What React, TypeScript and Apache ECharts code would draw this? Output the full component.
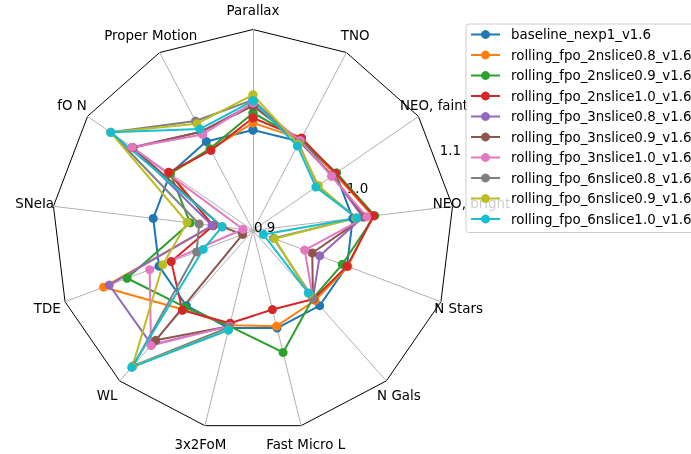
import { useEffect, useRef } from 'react';
import * as echarts from 'echarts';

// Axes in clockwise order starting from the top
const axisNames = ['Parallax', 'TNO', 'NEO, faint', 'NEO, bright', 'N Stars', 'N Gals', 'Fast Micro L', '3x2FoM', 'WL', 'TDE', 'SNeIa', 'fO N', 'Proper Motion'];
const radialTicks = [0.9, 1.0, 1.1];
const rMin = 0.9;
const rMax = 1.1;

const seriesNames = [
  'baseline_nexp1_v1.6',
  'rolling_fpo_2nslice0.8_v1.6',
  'rolling_fpo_2nslice0.9_v1.6',
  'rolling_fpo_2nslice1.0_v1.6',
  'rolling_fpo_3nslice0.8_v1.6',
  'rolling_fpo_3nslice0.9_v1.6',
  'rolling_fpo_3nslice1.0_v1.6',
  'rolling_fpo_6nslice0.8_v1.6',
  'rolling_fpo_6nslice0.9_v1.6',
  'rolling_fpo_6nslice1.0_v1.6',
];
const colors = ['#1f77b4', '#ff7f0e', '#2ca02c', '#d62728', '#9467bd', '#8c564b', '#e377c2', '#7f7f7f', '#bcbd22', '#17becf'];

const baseline = [1.0, 1.0, 1.0, 1.0, 1.0, 1.0, 1.0, 1.0, 1.0, 1.0, 1.0, 1.0, 1.0];
const fpo2ns08 = [1.007, 1.003, 0.999, 1.020, 1.001, 0.993, 0.998, 0.997, 1.005, 1.059, 0.940, 1.000, 0.991];
const fpo2ns09 = [1.017, 1.002, 1.001, 1.022, 0.995, 0.990, 1.025, 0.998, 1.002, 1.034, 0.963, 1.000, 0.992];
const fpo2ns10 = [1.012, 1.004, 1.000, 1.021, 1.000, 0.991, 0.981, 0.995, 1.006, 0.987, 0.940, 1.002, 0.990];
const fpo3ns08 = [1.026, 1.000, 0.996, 1.010, 0.971, 0.990, null, 0.998, 1.052, 1.053, 0.941, 1.046, 1.011];
const fpo3ns09 = [1.024, 1.000, 0.996, 1.012, 0.963, 0.990, null, 0.998, 1.046, 0.911, 0.931, 1.045, 1.011];
const fpo3ns10 = [1.027, 1.001, 0.995, 1.014, 0.955, 0.990, null, 0.998, 1.053, 1.010, 0.910, 1.046, 1.008];
const fpo6ns08 = [1.030, 0.998, 0.978, 1.004, 0.922, 0.990, null, 0.999, 1.080, 0.960, 0.954, 1.072, 1.023];
const fpo6ns09 = [1.035, 0.997, 0.979, 1.003, 0.923, 0.984, null, 1.002, 1.081, 0.996, 0.966, 1.072, 1.020];
const fpo6ns10 = [1.029, 0.995, 0.976, 1.004, 0.911, 0.983, null, 1.002, 1.082, 0.953, 0.931, 1.072, 1.014];

const allValues = [baseline, fpo2ns08, fpo2ns09, fpo2ns10, fpo3ns08, fpo3ns09, fpo3ns10, fpo6ns08, fpo6ns09, fpo6ns10];

const FONT = 'DejaVu Sans';
const FS = 13.4;

export default function App() {
  const ref = useRef<HTMLDivElement>(null);
  useEffect(() => {
    if (!ref.current) return;
    const chart = echarts.init(ref.current, undefined, { renderer: 'svg' });
    const cx = 253;
    const cy = 230.5;
    const R = 201;
    const n = axisNames.length;

    // radar indicators go counter-clockwise in ECharts: reverse (keeping first)
    const ccwOrder = [0, ...Array.from({ length: n - 1 }, (_, i) => n - 1 - i)];
    const indicator = ccwOrder.map((i) => ({ name: axisNames[i], min: rMin, max: rMax }));

    const series = allValues.map((vals, si) => {
      const pts: any[] = vals.map((v, k) => [v === null ? '-' : v, k]);
      pts.push([vals[0], n]);
      return {
        name: seriesNames[si],
        type: 'line',
        coordinateSystem: 'polar',
        data: pts,
        symbol: 'circle',
        symbolSize: 9,
        showSymbol: true,
        connectNulls: false,
        clip: false,
        lineStyle: { width: 2, color: colors[si] },
        itemStyle: { color: colors[si] },
        emphasis: { disabled: true },
        z: 3,
      };
    });

    const labelAngle = (22.5 * Math.PI) / 180;
    const rLabels = radialTicks.map((t) => {
      const r = ((t - rMin) / (rMax - rMin)) * R;
      return {
        type: 'text',
        x: cx + r * Math.cos(labelAngle) + 1,
        y: cy - r * Math.sin(labelAngle) + 3,
        z: 3,
        style: {
          text: t.toFixed(1),
          fill: '#000',
          font: `${FS}px "${FONT}"`,
          align: 'left',
          verticalAlign: 'bottom',
        },
      };
    });

    chart.setOption({
      animation: false,
      color: colors,
      radar: {
        center: [cx, cy],
        radius: R,
        startAngle: 90,
        shape: 'polygon',
        splitNumber: 2,
        indicator,
        nameGap: 19,
        axisName: {
          color: '#000',
          fontFamily: FONT,
          fontSize: FS,
          align: 'center',
          verticalAlign: 'middle',
        },
        axisLine: { lineStyle: { color: '#b0b0b0', width: 1 } },
        splitLine: { lineStyle: { color: ['#b0b0b0', '#b0b0b0', '#000000'], width: 1 } },
        splitArea: { show: false },
        axisTick: { show: false },
        axisLabel: { show: false },
      },
      polar: { center: [cx, cy], radius: R },
      angleAxis: {
        type: 'value',
        min: 0,
        max: n,
        startAngle: 90,
        clockwise: true,
        show: false,
      },
      radiusAxis: {
        type: 'value',
        min: rMin,
        max: rMax,
        show: false,
      },
      legend: {
        orient: 'vertical',
        left: 466,
        top: 24,
        data: seriesNames,
        itemWidth: 29,
        itemHeight: 11,
        itemGap: 7.5,
        padding: [4, 5, 7, 4],
        backgroundColor: 'rgba(255,255,255,0.8)',
        borderColor: '#cccccc',
        borderWidth: 1,
        borderRadius: 3,
        selectedMode: false,
        textStyle: { color: '#000', fontFamily: FONT, fontSize: FS, padding: [0, 0, 0, 6] },
        z: 10,
      },
      graphic: rLabels,
      series,
    });
    return () => chart.dispose();
  }, []);
  return <div ref={ref} style={{ position: 'fixed', left: 0, top: 0, width: 691, height: 454 }} />;
}
